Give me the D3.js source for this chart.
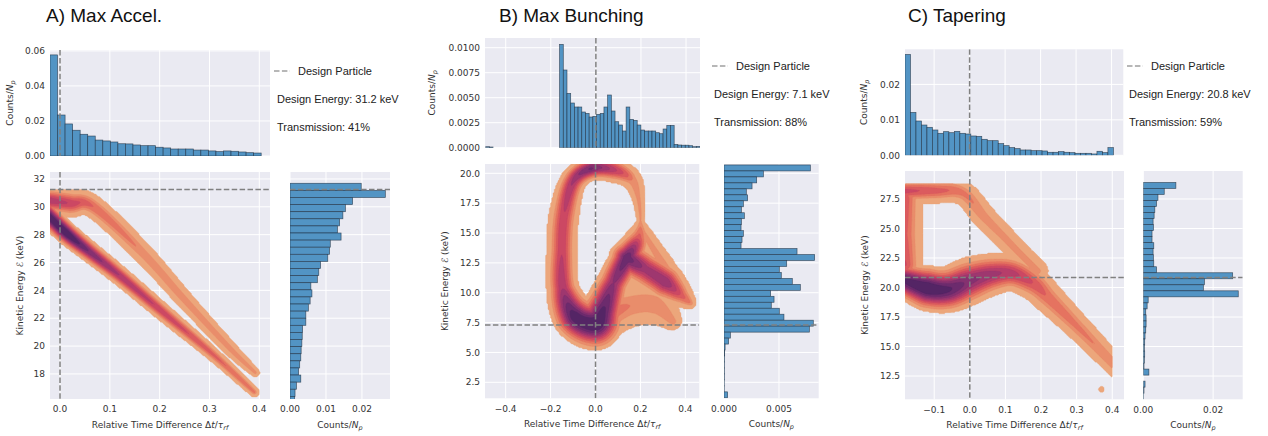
<!DOCTYPE html>
<html><head><meta charset="utf-8">
<script src="https://cdn.jsdelivr.net/npm/d3@7"></script>
<style>
body{margin:0;background:#fff}
text{font-family:"DejaVu Sans",sans-serif}
.tt{font-family:"Liberation Sans",Arial,sans-serif}
</style></head>
<body><svg id="chart" width="1268" height="436"></svg>
<script>
// ---------------- DATA ----------------
const titles = ["A) Max Accel.", "B) Max Bunching", "C) Tapering"];
const designEnergyText = ["Design Energy: 31.2 keV", "Design Energy: 7.1 keV", "Design Energy: 20.8 keV"];
const transmissionText = ["Transmission: 41%", "Transmission: 88%", "Transmission: 59%"];
const designLineE = [31.25, 7.3, 20.85];   // dashed horizontal (keV)
const designLineT = [0, 0, 0];             // dashed vertical (Δt/τ)

// Axis domains
const aTimeDomain = [-0.0201, 0.4215], aEnergyDomain = [16.2, 32.5];
const bTimeDomain = [-0.492, 0.462],  bEnergyDomain = [1.16, 20.78];
const cTimeDomain = [-0.182, 0.433],  cEnergyDomain = [10.53, 29.87];
const aTopMax = 0.0605, bTopMax = 0.01097, cTopMax = 0.0299;
const aSideMax = 0.0278, bSideMax = 0.00861, cSideMax = 0.02847;

// Tick values
const aTimeTicks = [0, 0.1, 0.2, 0.3, 0.4];
const bTimeTicks = [-0.4, -0.2, 0, 0.2, 0.4];
const cTimeTicks = [-0.1, 0, 0.1, 0.2, 0.3, 0.4];
const aEnergyTicks = [18, 20, 22, 24, 26, 28, 30, 32];
const bEnergyTicks = [2.5, 5, 7.5, 10, 12.5, 15, 17.5, 20];
const cEnergyTicks = [12.5, 15, 17.5, 20, 22.5, 25, 27.5];
const aTopTicks = [0, 0.02, 0.04, 0.06];
const bTopTicks = [0, 0.0025, 0.005, 0.0075, 0.01];
const cTopTicks = [0, 0.01, 0.02];
const aSideTicks = [0, 0.01, 0.02];
const bSideTicks = [0, 0.005];
const cSideTicks = [0, 0.02];
const tickFormats = {aE: ".0f", bE: ".1f", cE: ".1f", aT: ".1f", bT: ".1f", cT: ".1f",
  aTop: ".2f", bTop: ".4f", cTop: ".2f", aSide: ".2f", bSide: ".3f", cSide: ".2f"};

// Time histograms (Counts/Np), bins of constant width from start
const aTopStart = -0.0201, aTopWidth = 0.01514;
const aTopCounts = [0.0577, 0.0234, 0.0183, 0.0147, 0.0124, 0.0114, 0.0091, 0.0086, 0.0080, 0.0070,
  0.0069, 0.0063, 0.0059, 0.0059, 0.0050, 0.0046, 0.0040, 0.0040, 0.0040, 0.0034,
  0.0034, 0.0029, 0.0025, 0.0029, 0.0027, 0.0023, 0.0019, 0.0017];
const bTopStart = -0.489, bTopWidth = 0.0164;
const bTopCounts = [0.0001, 0.00007, 0, 0, 0, 0, 0, 0, 0, 0, 0, 0, 0, 0, 0, 0, 0, 0, 0, 0,
  0.01033, 0.00777, 0.00543, 0.00447, 0.00407, 0.00407, 0.00357, 0.00343, 0.00307, 0.00313,
  0.00333, 0.00343, 0.00407, 0.00527, 0.00367, 0.0026, 0.00227, 0.00167, 0.00407, 0.00283,
  0.00273, 0.00227, 0.00177, 0.00167, 0.00167, 0.00167, 0.0015, 0.0014, 0.00187, 0.00223,
  0.00223, 0.00033, 0.00027, 0.00025, 0.00025, 0.0002, 0.0001, 0.00013];
const cTopStart = -0.182, cTopWidth = 0.01545;
const cTopCounts = [0.02845, 0.0121, 0.00967, 0.00854, 0.00789, 0.00714, 0.0062, 0.00667, 0.00638, 0.00676,
  0.0062, 0.00601, 0.00545, 0.00535, 0.00451, 0.00413, 0.00413, 0.00329, 0.00272, 0.00216,
  0.00188, 0.0015, 0.0015, 0.00131, 0.00131, 0.00122, 0.00085, 0.00085, 0.00103, 0.00085,
  0.00075, 0.00056, 0.00056, 0.00056, 0.00038, 0.00113, 0.00075, 0.00216];

// Energy histograms (Counts/Np), bins listed from high energy (top) to low
const aSideTop = 31.69, aSideWidth = 0.51;
const aSideCounts = [0.0198, 0.0265, 0.0174, 0.0154, 0.0147, 0.0138, 0.0132, 0.0142, 0.0112, 0.0110,
  0.0105, 0.0085, 0.0080, 0.0076, 0.0058, 0.0061, 0.0056, 0.0051, 0.0044, 0.0044,
  0.0035, 0.0034, 0.0033, 0.0031, 0.0030, 0.0027, 0.0024, 0.0030, 0.0018, 0.0014, 0.0013];
const bSideTop = 20.7, bSideWidth = 0.5;
const bSideCounts = [0.00785, 0.00358, 0.00297, 0.00255, 0.00203, 0.00215, 0.00176, 0.00158, 0.00185, 0.00158,
  0.00155, 0.00176, 0.00164, 0.00155, 0.00664, 0.00824, 0.0057, 0.00503, 0.00521, 0.00621,
  0.00694, 0.00424, 0.00455, 0.0043, 0.00503, 0.00545, 0.00812, 0.00776, 0.00058, 0.00042,
  0.0001, 0.00006, 0.00004, 0.00003, 0.00003, 0.00003, 0.00002, 0.00002, 0.00033];
const cSideTop = 28.9, cSideWidth = 0.51;
const cSideCounts = [0.00933, 0.0060, 0.0042, 0.0038, 0.0033, 0.0031, 0.0028, 0.0029, 0.0025, 0.0025,
  0.0030, 0.0028, 0.0029, 0.0030, 0.0038, 0.0256, 0.0175, 0.0172, 0.0272, 0.0014,
  0.0011, 0.0007, 0.0008, 0.0008, 0.0007, 0.0005, 0.0004, 0.0003, 0.0004, 0.0003,
  0.0002, 0.0016, 0, 0.0005, 0.0002, 0.0001];

// Phase-space density ridges: [Δt/τ, energy keV, half-spread keV, relative density]
const aRidgeUpper = [[-0.03, 30.5, 0.9, 0.42], [0.02, 30.25, 1.0, 0.3], [0.067, 30.0, 0.8, 0.16],
  [0.167, 26.65, 0.72, 0.09], [0.247, 23.45, 0.62, 0.085], [0.341, 19.84, 0.5, 0.08], [0.392, 18.1, 0.3, 0.075]];
const aRidgeLower = [[-0.03, 29.6, 0.85, 0.9], [0.0134, 28.1, 0.8, 1.0], [0.06, 26.75, 0.74, 0.6],
  [0.12, 25.05, 0.68, 0.4], [0.215, 22.18, 0.6, 0.28], [0.308, 19.38, 0.48, 0.18], [0.39, 16.7, 0.34, 0.12]];
const aDensityClip = [-0.0201, 0.4215, 16.2, 31.25];

const bRidgeRing = [[0.0, 7.4, 2.2, 1.0], [-0.09, 8.0, 1.9, 0.9], [-0.145, 10.3, 1.35, 0.4],
  [-0.15, 13.5, 1.25, 0.3], [-0.14, 16.5, 1.25, 0.3], [-0.1, 19.3, 1.1, 0.42], [-0.02, 20.4, 1.0, 0.65],
  [0.08, 20.3, 1.05, 0.35], [0.16, 19.5, 0.85, 0.1], [0.19, 18.0, 0.55, 0.07], [0.2, 16.0, 0.3, 0.06],
  [0.19, 14.5, 1.1, 0.2], [0.14, 12.9, 1.4, 0.75], [0.08, 10.8, 1.4, 0.5], [0.035, 8.6, 1.8, 0.8]];
const bRidgeRight = [[0.14, 12.9, 1.5, 0.75], [0.22, 12.0, 1.6, 0.45], [0.31, 10.9, 1.6, 0.5],
  [0.38, 9.8, 1.0, 0.2], [0.425, 9.1, 0.4, 0.08]];
const bRidgeEdge = [[0.205, 15.3, 0.6, 0.06], [0.3, 12.4, 0.9, 0.08], [0.4, 9.7, 0.7, 0.08]];
const bRidgeLobe = [[0.05, 8.0, 1.8, 0.15], [0.15, 8.9, 1.8, 0.1], [0.26, 9.0, 1.7, 0.1], [0.345, 7.6, 0.7, 0.08]];
const bDensityClip = [-0.492, 0.462, 1.16, 20.78];

const cRidgeTop = [[-0.2, 28.15, 1.05, 0.28], [-0.1, 28.2, 1.05, 0.2], [-0.02, 28.0, 1.0, 0.12],
  [0.04, 26.0, 1.0, 0.08], [0.095, 24.3, 0.95, 0.07], [0.14, 22.9, 0.9, 0.07], [0.19, 21.4, 0.9, 0.07]];
const cRidgeLeft = [[-0.185, 27.5, 1.6, 0.22], [-0.185, 24.5, 1.6, 0.18], [-0.185, 22.0, 1.6, 0.25]];
const cRidgeS = [[-0.2, 20.8, 1.35, 0.75], [-0.12, 19.95, 1.9, 1.0], [-0.06, 19.85, 1.95, 0.8],
  [0.0, 20.55, 2.0, 0.55], [0.06, 21.1, 1.75, 0.45], [0.12, 21.2, 1.5, 0.35], [0.18, 20.3, 1.4, 0.22],
  [0.22, 19.15, 1.3, 0.15], [0.29, 17.05, 1.1, 0.12], [0.35, 15.2, 1.0, 0.1], [0.42, 13.0, 0.85, 0.09]];
const cRidgeIsland = [[0.37, 11.37, 0.22, 0.06]];
const cDensityClip = [-0.182, 0.4, 10.53, 28.8];

// ---------------- LAYOUT / STYLE ----------------
const layouts = [
  {title: [46, 22], top: [50, 270, 50, 156], main: [50, 270, 172, 399], side: [290, 390, 172, 399],
   leg: [274, 71], info: [277, 103, 131], ylTop: 13, ylMain: 23, xlabY: 428, tickY: 412},
  {title: [499, 22], top: [485, 700, 38, 147.7], main: [485, 699.3, 164, 398.3], side: [724, 818.7, 164, 398.3],
   leg: [712, 66], info: [714, 98, 126], ylTop: 435, ylMain: 448, xlabY: 427, tickY: 412},
  {title: [908, 22], top: [905, 1123.3, 49.3, 155.3], main: [905, 1124, 171, 399.3], side: [1143.3, 1242.7, 171, 399.3],
   leg: [1127, 66], info: [1129, 98, 126], ylTop: 867, ylMain: 868, xlabY: 428, tickY: 413}
];
const panels = [
  {tD: aTimeDomain, eD: aEnergyDomain, topMax: aTopMax, sideMax: aSideMax, tT: aTimeTicks, eT: aEnergyTicks,
   topT: aTopTicks, sideT: aSideTicks, fT: tickFormats.aT, fE: tickFormats.aE, fTop: tickFormats.aTop, fSide: tickFormats.aSide,
   topStart: aTopStart, topWidth: aTopWidth, topCounts: aTopCounts, sideTop: aSideTop, sideWidth: aSideWidth, sideCounts: aSideCounts,
   ridges: [{p: aRidgeUpper}, {p: aRidgeLower}], clip: aDensityClip},
  {tD: bTimeDomain, eD: bEnergyDomain, topMax: bTopMax, sideMax: bSideMax, tT: bTimeTicks, eT: bEnergyTicks,
   topT: bTopTicks, sideT: bSideTicks, fT: tickFormats.bT, fE: tickFormats.bE, fTop: tickFormats.bTop, fSide: tickFormats.bSide,
   topStart: bTopStart, topWidth: bTopWidth, topCounts: bTopCounts, sideTop: bSideTop, sideWidth: bSideWidth, sideCounts: bSideCounts,
   ridges: [{p: bRidgeRing, closed: true}, {p: bRidgeRight}, {p: bRidgeEdge}, {p: bRidgeLobe}], clip: bDensityClip},
  {tD: cTimeDomain, eD: cEnergyDomain, topMax: cTopMax, sideMax: cSideMax, tT: cTimeTicks, eT: cEnergyTicks,
   topT: cTopTicks, sideT: cSideTicks, fT: tickFormats.cT, fE: tickFormats.cE, fTop: tickFormats.cTop, fSide: tickFormats.cSide,
   topStart: cTopStart, topWidth: cTopWidth, topCounts: cTopCounts, sideTop: cSideTop, sideWidth: cSideWidth, sideCounts: cSideCounts,
   ridges: [{p: cRidgeTop}, {p: cRidgeLeft}, {p: cRidgeS}, {p: cRidgeIsland}], clip: cDensityClip}
];

const flare = d3.piecewise(d3.interpolateRgb, ["#edb081", "#e98d6b", "#e3685c", "#d14a61", "#b13c6c", "#8f3371", "#6c2b6d", "#4b2362"]);
const levels = [0.0005, 0.05, 0.1, 0.16, 0.23, 0.31, 0.4, 0.5, 0.62, 0.76];
const AX_BG = "#eaeaf2", BAR_FILL = "#5294c4", BAR_EDGE = "#1f2f40", TXT = "#333", DASH = "#808080";

const svg = d3.select("#chart");
let clipId = 0;

function axesBox(box) {
  const [x0, x1, y0, y1] = box;
  const id = "clip" + (clipId++);
  svg.append("clipPath").attr("id", id).append("rect").attr("x", x0).attr("y", y0).attr("width", x1 - x0).attr("height", y1 - y0);
  svg.append("rect").attr("x", x0).attr("y", y0).attr("width", x1 - x0).attr("height", y1 - y0).attr("fill", AX_BG);
  const grid = svg.append("g");
  const g = svg.append("g").attr("clip-path", `url(#${id})`);
  return {g, grid};
}
function vGrid(grid, xs, ticks, y0, y1) {
  grid.selectAll(null).data(ticks).enter().append("line")
    .attr("x1", d => xs(d)).attr("x2", d => xs(d)).attr("y1", y0).attr("y2", y1)
    .attr("stroke", "#fff").attr("stroke-width", 1);
}
function hGrid(grid, ys, ticks, x0, x1) {
  grid.selectAll(null).data(ticks).enter().append("line")
    .attr("y1", d => ys(d)).attr("y2", d => ys(d)).attr("x1", x0).attr("x2", x1)
    .attr("stroke", "#fff").attr("stroke-width", 1);
}
function xTickLabels(xs, ticks, fmt, y) {
  svg.append("g").selectAll(null).data(ticks).enter().append("text")
    .attr("x", d => xs(d)).attr("y", y).attr("text-anchor", "middle")
    .attr("font-size", 9).attr("fill", TXT).text(d => d3.format(fmt)(d));
}
function yTickLabels(ys, ticks, fmt, x) {
  svg.append("g").selectAll(null).data(ticks).enter().append("text")
    .attr("x", x).attr("y", d => ys(d) + 3.2).attr("text-anchor", "end")
    .attr("font-size", 9).attr("fill", TXT).text(d => d3.format(fmt)(d));
}
function countsLabel(sel) {
  sel.append("tspan").text("Counts/");
  sel.append("tspan").attr("font-style", "italic").text("N");
  sel.append("tspan").attr("font-style", "italic").attr("font-size", 6.5).attr("dy", 2).text("p");
}

// density: ridges -> grid -> contours
function densify(pts, xs, ys, kev, closed) {
  const P = pts.map(p => ({x: xs(p[0]), y: ys(p[1]), h: p[2] * kev, w: p[3]}));
  const n = P.length;
  if (n === 1) return [P[0], P[0]];
  const out = [], N = 14, segs = closed ? n : n - 1;
  const get = i => closed ? P[(i + n) % n] : P[Math.max(0, Math.min(n - 1, i))];
  for (let i = 0; i < segs; i++) {
    const p0 = get(i - 1), p1 = get(i), p2 = get(i + 1), p3 = get(i + 2);
    for (let k = 0; k < N; k++) {
      const s = k / N, s2 = s * s, s3 = s2 * s;
      const cr = (a, b, c, d) => 0.5 * (2 * b + (-a + c) * s + (2 * a - 5 * b + 4 * c - d) * s2 + (-a + 3 * b - 3 * c + d) * s3);
      out.push({x: cr(p0.x, p1.x, p2.x, p3.x), y: cr(p0.y, p1.y, p2.y, p3.y), h: p1.h + (p2.h - p1.h) * s, w: p1.w + (p2.w - p1.w) * s});
    }
  }
  out.push(closed ? out[0] : P[n - 1]);
  return out;
}
function toSegs(line) {
  const segs = [];
  for (let i = 0; i < line.length - 1; i++) {
    const a = line[i], b = line[i + 1], m = Math.max(a.h, b.h);
    segs.push({ax: a.x, ay: a.y, bx: b.x, by: b.y, ha: a.h, hb: b.h, wa: a.w, wb: b.w,
      minx: Math.min(a.x, b.x) - m, maxx: Math.max(a.x, b.x) + m, miny: Math.min(a.y, b.y) - m, maxy: Math.max(a.y, b.y) + m});
  }
  return segs;
}
function ridgeValue(px, py, segs) {
  let best = 0;
  for (const s of segs) {
    if (px < s.minx || px > s.maxx || py < s.miny || py > s.maxy) continue;
    const dx = s.bx - s.ax, dy = s.by - s.ay, L = dx * dx + dy * dy;
    let t = L > 0 ? ((px - s.ax) * dx + (py - s.ay) * dy) / L : 0;
    t = t < 0 ? 0 : t > 1 ? 1 : t;
    const cx = s.ax + dx * t, cy = s.ay + dy * t;
    const d2 = (px - cx) * (px - cx) + (py - cy) * (py - cy);
    const h = s.ha + (s.hb - s.ha) * t, u2 = d2 / (h * h);
    if (u2 < 1) { const v = (s.wa + (s.wb - s.wa) * t) * Math.exp(-4 * u2); if (v > best) best = v; }
  }
  return best;
}
function drawDensity(g, P, xs, ys) {
  const kev = Math.abs(ys(1) - ys(0));
  const [t0, t1, e0, e1] = P.clip;
  const x0 = xs(t0), x1 = xs(t1), y0 = ys(e1), y1 = ys(e0);
  const cs = 1.25;
  const nx = Math.ceil((x1 - x0) / cs), ny = Math.ceil((y1 - y0) / cs);
  const csx = (x1 - x0) / nx, csy = (y1 - y0) / ny;
  const allSegs = P.ridges.map(r => toSegs(densify(r.p, xs, ys, kev, r.closed)));
  const vals = new Array(nx * ny);
  for (let j = 0; j < ny; j++) {
    const py = y0 + (j + 0.5) * csy;
    for (let i = 0; i < nx; i++) {
      const px = x0 + (i + 0.5) * csx;
      let v = 0;
      for (const segs of allSegs) { const r = ridgeValue(px, py, segs); if (r > v) v = r; }
      vals[j * nx + i] = v;
    }
  }
  const contours = d3.contours().size([nx, ny]).thresholds(levels)(vals);
  const path = d3.geoPath(d3.geoTransform({point(x, y) { this.stream.point(x0 + x * csx, y0 + y * csy); }}));
  g.selectAll(null).data(contours).enter().append("path")
    .attr("d", path).attr("fill", (d, i) => flare(0.04 + 0.92 * i / (levels.length - 1)))
    .attr("stroke", (d, i) => flare(0.04 + 0.92 * i / (levels.length - 1))).attr("stroke-width", 0.3);
}

panels.forEach((P, k) => {
  const L = layouts[k];
  const xs = d3.scaleLinear().domain(P.tD).range([L.main[0], L.main[1]]);
  const ys = d3.scaleLinear().domain(P.eD).range([L.main[3], L.main[2]]);
  const ysTop = d3.scaleLinear().domain([0, P.topMax]).range([L.top[3], L.top[2]]);
  const xsSide = d3.scaleLinear().domain([0, P.sideMax]).range([L.side[0], L.side[1]]);
  const xsTop = d3.scaleLinear().domain(P.tD).range([L.top[0], L.top[1]]);

  svg.append("text").attr("class", "tt").attr("x", L.title[0]).attr("y", L.title[1])
    .attr("font-size", 19).attr("fill", "#111").text(titles[k]);

  // ---- top histogram
  let ax = axesBox(L.top);
  vGrid(ax.grid, xsTop, P.tT, L.top[2], L.top[3]);
  hGrid(ax.grid, ysTop, P.topT, L.top[0], L.top[1]);
  ax.g.selectAll(null).data(P.topCounts.map((c, i) => ({c, i})).filter(d => d.c > 0)).enter().append("rect")
    .attr("x", d => xsTop(P.topStart + d.i * P.topWidth))
    .attr("width", d => xsTop(P.topStart + (d.i + 1) * P.topWidth) - xsTop(P.topStart + d.i * P.topWidth))
    .attr("y", d => ysTop(d.c)).attr("height", d => ysTop(0) - ysTop(d.c))
    .attr("fill", BAR_FILL).attr("stroke", BAR_EDGE).attr("stroke-opacity", 0.75).attr("stroke-width", 0.7);
  ax.g.append("line").attr("x1", xsTop(designLineT[k])).attr("x2", xsTop(designLineT[k]))
    .attr("y1", L.top[2]).attr("y2", L.top[3]).attr("stroke", DASH).attr("stroke-width", 1.5).attr("stroke-dasharray", "5.5,2.4");
  yTickLabels(ysTop, P.topT, P.fTop, L.top[0] - 5);
  countsLabel(svg.append("text").attr("transform", `translate(${L.ylTop},${(L.top[2] + L.top[3]) / 2}) rotate(-90)`)
    .attr("text-anchor", "middle").attr("font-size", 9).attr("fill", TXT));

  // legend + info
  svg.append("line").attr("x1", L.leg[0]).attr("x2", L.leg[0] + 16).attr("y1", L.leg[1]).attr("y2", L.leg[1])
    .attr("stroke", "#a0a0a0").attr("stroke-width", 1.5).attr("stroke-dasharray", "5.5,2.4");
  svg.append("text").attr("class", "tt").attr("x", L.leg[0] + 24).attr("y", L.leg[1] + 4).attr("font-size", 11).attr("fill", "#222").text("Design Particle");
  svg.append("text").attr("class", "tt").attr("x", L.info[0]).attr("y", L.info[1]).attr("font-size", 11).attr("fill", "#222").text(designEnergyText[k]);
  svg.append("text").attr("class", "tt").attr("x", L.info[0]).attr("y", L.info[2]).attr("font-size", 11).attr("fill", "#222").text(transmissionText[k]);

  // ---- main density
  ax = axesBox(L.main);
  vGrid(ax.grid, xs, P.tT, L.main[2], L.main[3]);
  hGrid(ax.grid, ys, P.eT, L.main[0], L.main[1]);
  drawDensity(ax.g, P, xs, ys);
  ax.g.append("line").attr("x1", xs(designLineT[k])).attr("x2", xs(designLineT[k]))
    .attr("y1", L.main[2]).attr("y2", L.main[3]).attr("stroke", DASH).attr("stroke-width", 1.5).attr("stroke-dasharray", "5.5,2.4");
  ax.g.append("line").attr("y1", ys(designLineE[k])).attr("y2", ys(designLineE[k]))
    .attr("x1", L.main[0]).attr("x2", L.main[1]).attr("stroke", DASH).attr("stroke-width", 1.5).attr("stroke-dasharray", "5.5,2.4");
  xTickLabels(xs, P.tT, P.fT, L.tickY);
  yTickLabels(ys, P.eT, P.fE, L.main[0] - 5);
  const xl = svg.append("text").attr("x", (L.main[0] + L.main[1]) / 2).attr("y", L.xlabY)
    .attr("text-anchor", "middle").attr("font-size", 9).attr("fill", TXT);
  xl.append("tspan").text("Relative Time Difference Δ");
  xl.append("tspan").attr("font-style", "italic").text("t");
  xl.append("tspan").text("/");
  xl.append("tspan").attr("font-style", "italic").text("τ");
  xl.append("tspan").attr("font-style", "italic").attr("font-size", 6.5).attr("dy", 2).text("rf");
  svg.append("text").attr("transform", `translate(${L.ylMain},${(L.main[2] + L.main[3]) / 2}) rotate(-90)`)
    .attr("text-anchor", "middle").attr("font-size", 9).attr("fill", TXT).text("Kinetic Energy ℰ (keV)");

  // ---- side histogram
  ax = axesBox(L.side);
  vGrid(ax.grid, xsSide, P.sideT, L.side[2], L.side[3]);
  hGrid(ax.grid, ys, P.eT, L.side[0], L.side[1]);
  ax.g.selectAll(null).data(P.sideCounts.map((c, i) => ({c, i})).filter(d => d.c > 0)).enter().append("rect")
    .attr("y", d => ys(P.sideTop - d.i * P.sideWidth))
    .attr("height", d => ys(P.sideTop - (d.i + 1) * P.sideWidth) - ys(P.sideTop - d.i * P.sideWidth))
    .attr("x", xsSide(0)).attr("width", d => xsSide(d.c) - xsSide(0))
    .attr("fill", BAR_FILL).attr("stroke", BAR_EDGE).attr("stroke-opacity", 0.75).attr("stroke-width", 0.7);
  ax.g.append("line").attr("y1", ys(designLineE[k])).attr("y2", ys(designLineE[k]))
    .attr("x1", L.side[0]).attr("x2", L.side[1]).attr("stroke", DASH).attr("stroke-width", 1.5).attr("stroke-dasharray", "5.5,2.4");
  xTickLabels(xsSide, P.sideT, P.fSide, L.tickY);
  countsLabel(svg.append("text").attr("x", (L.side[0] + L.side[1]) / 2).attr("y", L.xlabY)
    .attr("text-anchor", "middle").attr("font-size", 9).attr("fill", TXT));
});
</script></body></html>
